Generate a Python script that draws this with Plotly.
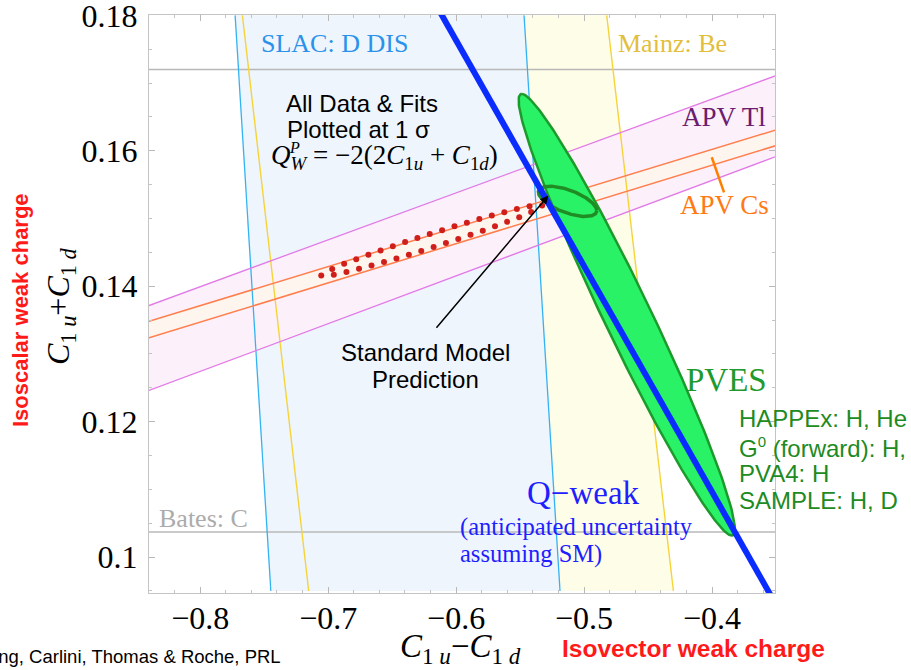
import numpy as np
import plotly.graph_objects as go

# ---------------- data ----------------
band_y = [0.18, 0.095]                 # y at which the near-vertical band edges are given
slac_left_x = [-0.7727, -0.7448]
slac_right_x = [-0.5469, -0.5188]
mainz_left_x = [-0.7670, -0.7152]
mainz_right_x = [-0.4823, -0.4302]

apv_x = [-0.84, -0.35]                 # x at which the APV band edges are given
tl_upper_y = [0.13715, 0.17110]
tl_lower_y = [0.12460, 0.15915]
cs_upper_y = [0.13483, 0.16308]
cs_lower_y = [0.13238, 0.16077]

bates_y = [0.1720, 0.1037]             # Bates: C band edges

qweak_x = [-0.620, -0.345]
qweak_y = [0.18297, 0.09130]

# ellipses: centre, semi-axis a, semi-axis b
pves_center = [-0.46664, 0.13579]
pves_a = [-0.08203, 0.03261]
pves_b = [0.0203, 0.0]

fit_center = [-0.51289, 0.15253]
fit_a = [0.02281, -0.001358]
fit_b = [0.0, 0.00177]

apv_fit_center = [-0.6191, 0.14675]
apv_fit_a = [0.0863, 0.00516]
apv_fit_b = [0.0, 0.00105]

sm_point = [-0.52789, 0.15339]
sm_label = [-0.61773, 0.13336]

x_tickvals = [-0.8, -0.7, -0.6, -0.5, -0.4]
x_ticktext = ["\u22120.8", "\u22120.7", "\u22120.6", "\u22120.5", "\u22120.4"]
y_tickvals = [0.10, 0.12, 0.14, 0.16, 0.18]
y_ticktext = ["0.1", "0.12", "0.14", "0.16", "0.18"]

X_RANGE = [-0.84, -0.3508]
Y_RANGE = [0.0947, 0.18005]

SERIF = "Liberation Serif"
SANS = "Liberation Sans"

# ---------------- helpers ----------------
def ellipse(c, a, b, n=240):
    t = np.linspace(0, 2 * np.pi, n)
    x = c[0] + a[0] * np.cos(t) + b[0] * np.sin(t)
    y = c[1] + a[1] * np.cos(t) + b[1] * np.sin(t)
    return x, y

def even_dots(c, a, b, count):
    # points spaced evenly along the ellipse as drawn on screen
    x, y = ellipse(c, a, b, 2000)
    sx, sy = x * 1280.0, y * 6775.0
    s = np.concatenate([[0], np.cumsum(np.hypot(np.diff(sx), np.diff(sy)))])
    targets = np.linspace(0, s[-1], count, endpoint=False)
    return np.interp(targets, s, x), np.interp(targets, s, y)

fig = go.Figure()

def poly(xs, ys, fill):
    fig.add_trace(go.Scatter(x=xs, y=ys, mode="lines", fill="toself",
                             fillcolor=fill, line=dict(width=0),
                             hoverinfo="skip", showlegend=False))

def line(xs, ys, color, width, dash=None):
    fig.add_trace(go.Scatter(x=xs, y=ys, mode="lines",
                             line=dict(color=color, width=width, dash=dash),
                             hoverinfo="skip", showlegend=False))

# band fills
poly([mainz_left_x[0], mainz_right_x[0], mainz_right_x[1], mainz_left_x[1]],
     [band_y[0], band_y[0], band_y[1], band_y[1]], "#fefde8")
poly([slac_left_x[0], slac_right_x[0], slac_right_x[1], slac_left_x[1]],
     [band_y[0], band_y[0], band_y[1], band_y[1]], "#eef5fd")
poly([apv_x[0], apv_x[1], apv_x[1], apv_x[0]],
     [tl_upper_y[0], tl_upper_y[1], tl_lower_y[1], tl_lower_y[0]], "#fcf0fb")
poly([apv_x[0], apv_x[1], apv_x[1], apv_x[0]],
     [cs_upper_y[0], cs_upper_y[1], cs_lower_y[1], cs_lower_y[0]], "#fff5ef")

# band edges
for yv in bates_y:
    line(X_RANGE, [yv, yv], "#b8b8b8", 1.5)
line(slac_left_x, band_y, "#33b3f2", 1.3)
line(slac_right_x, band_y, "#33b3f2", 1.3)
line(mainz_left_x, band_y, "#f5d43a", 1.4)
line(mainz_right_x, band_y, "#f5d43a", 1.4)
line(apv_x, tl_upper_y, "#e27ae6", 1.3)
line(apv_x, tl_lower_y, "#e27ae6", 1.3)
line(apv_x, cs_upper_y, "#ff7e4c", 1.5)
line(apv_x, cs_lower_y, "#ff7e4c", 1.5)

# APV combined fit (red dotted)
dx, dy = even_dots(apv_fit_center, apv_fit_a, apv_fit_b, 36)
fig.add_trace(go.Scatter(x=dx, y=dy, mode="markers",
                         marker=dict(color="#d01f1a", size=6),
                         hoverinfo="skip", showlegend=False))

# PVES ellipse
ex, ey = ellipse(pves_center, pves_a, pves_b)
fig.add_trace(go.Scatter(x=ex, y=ey, mode="lines", fill="toself",
                         fillcolor="#2af266", line=dict(color="#1c9a2c", width=2.5),
                         hoverinfo="skip", showlegend=False))

# combined fit ellipse (outline)
fx, fy = ellipse(fit_center, fit_a, fit_b)
line(fx, fy, "#1f8c24", 3.5)

# Q-weak line
line(qweak_x, qweak_y, "#0a2cff", 6)

# APV Cs pointer
line([-0.40023, -0.39063], [0.15904, 0.15387], "#ff7f00", 2.5)

ann = []

def txt(x, y, text, size, color, family, xanchor="center", xref="x", yref="y", angle=0):
    ann.append(dict(x=x, y=y, xref=xref, yref=yref, text=text, showarrow=False,
                    xanchor=xanchor, yanchor="middle", textangle=angle,
                    font=dict(size=size, color=color, family=family)))

txt(-0.6949, 0.17587, "SLAC: D DIS", 26, "#2a92ea", SERIF)
txt(-0.4309, 0.17587, "Mainz: Be", 26, "#e3be3a", SERIF)
txt(-0.6734, 0.16697, "All Data &amp; Fits", 24, "black", SANS)
txt(-0.6763, 0.16308, "Plotted at 1 \u03c3", 24, "black", SANS)
txt(-0.7466, 0.15914,
    "<i>Q</i><sub><i>W</i></sub> = \u22122(2<i>C</i><sub>1<i>u</i></sub> + <i>C</i><sub>1<i>d</i></sub>)",
    27, "black", SERIF, xanchor="left")
txt(-0.7320, 0.16045, "<i>P</i>", 16, "black", SERIF, xanchor="left")
txt(-0.3910, 0.16494, "APV Tl", 27, "#6b1d6e", SERIF)
txt(-0.3906, 0.15206, "APV Cs", 27, "#ff7a12", SERIF)
txt(-0.6242, 0.13026, "Standard Model", 24, "black", SANS)
txt(-0.6242, 0.12623, "Prediction", 24, "black", SANS)
txt(-0.38867, 0.12608, "PVES", 33, "#1f9a2e", SERIF)
for yv, t in zip([0.12043, 0.11624, 0.11231, 0.10837],
                 ["HAPPEx: H, He", "G<sup><span style='font-size:15px'>0</span></sup> (forward): H, D",
                  "PVA4: H", "SAMPLE: H, D"]):
    txt(-0.38070, yv, t, 24, "#1e8a22", SANS, xanchor="left")
txt(-0.50055, 0.10940, "Q\u2212weak", 33, "#1e1eff", SERIF)
txt(-0.59820, 0.10443, "(anticipated uncertainty", 24.5, "#1e1eff", SERIF, xanchor="left")
txt(-0.59820, 0.10050, "assuming SM)", 24.5, "#1e1eff", SERIF, xanchor="left")
txt(-0.83383, 0.10571, "Bates: C", 26, "#ababab", SERIF, xanchor="left")

# axis titles
txt(0.4976, -0.0952, "<i>C</i><sub>1 <i>u</i></sub>\u2212<i>C</i><sub>1 <i>d</i></sub>", 33, "black", SERIF,
    xref="paper", yref="paper")
txt(0.8706, -0.0952, "<b>Isovector weak charge</b>", 24.5, "#ff1a1a", SANS, xref="paper", yref="paper")
txt(-0.1422, 0.4965, "<i>C</i><sub>1 <i>u</i></sub>+<i>C</i><sub>1 <i>d</i></sub>", 32, "black", SERIF,
    xref="paper", yref="paper", angle=-90)
txt(-0.2061, 0.4896, "<b>Isoscalar weak charge</b>", 22, "#ff1a1a", SANS, xref="paper", yref="paper", angle=-90)
txt(0.2141, -0.1107, "Young, Carlini, Thomas &amp; Roche, PRL", 18.5, "black", SANS,
    xanchor="right", xref="paper", yref="paper")

# SM arrow
ann.append(dict(x=sm_point[0], y=sm_point[1], ax=sm_label[0], ay=sm_label[1],
                xref="x", yref="y", axref="x", ayref="y", text=" ",
                showarrow=True, arrowhead=2, arrowsize=1.1, arrowwidth=1.5,
                arrowcolor="black"))

axis_common = dict(showline=True, linecolor="#c4c4c4", linewidth=1, mirror="allticks",
                   ticks="inside", ticklen=6, tickcolor="#b8b8b8", showgrid=False,
                   zeroline=False, ticklabeloverflow="allow", automargin=False,
                   tickfont=dict(family=SERIF, size=32, color="black"))

fig.update_layout(
    width=911, height=670,
    margin=dict(l=149, r=136, t=15, b=77, autoexpand=False),
    paper_bgcolor="white", plot_bgcolor="white",
    xaxis=dict(range=X_RANGE, tickvals=x_tickvals, ticktext=x_ticktext,
               ticklabelstandoff=-3,
               minor=dict(dtick=0.02, ticks="inside", ticklen=3, tickcolor="#c4c4c4"),
               **axis_common),
    yaxis=dict(range=Y_RANGE, tickvals=y_tickvals, ticktext=y_ticktext,
               ticklabelstandoff=4,
               minor=dict(dtick=0.005, ticks="inside", ticklen=3, tickcolor="#c4c4c4"),
               **axis_common),
    annotations=ann,
    showlegend=False,
)

fig.write_html("out.html", config={"displayModeBar": False},
               post_script="document.body.style.margin='0px';")
